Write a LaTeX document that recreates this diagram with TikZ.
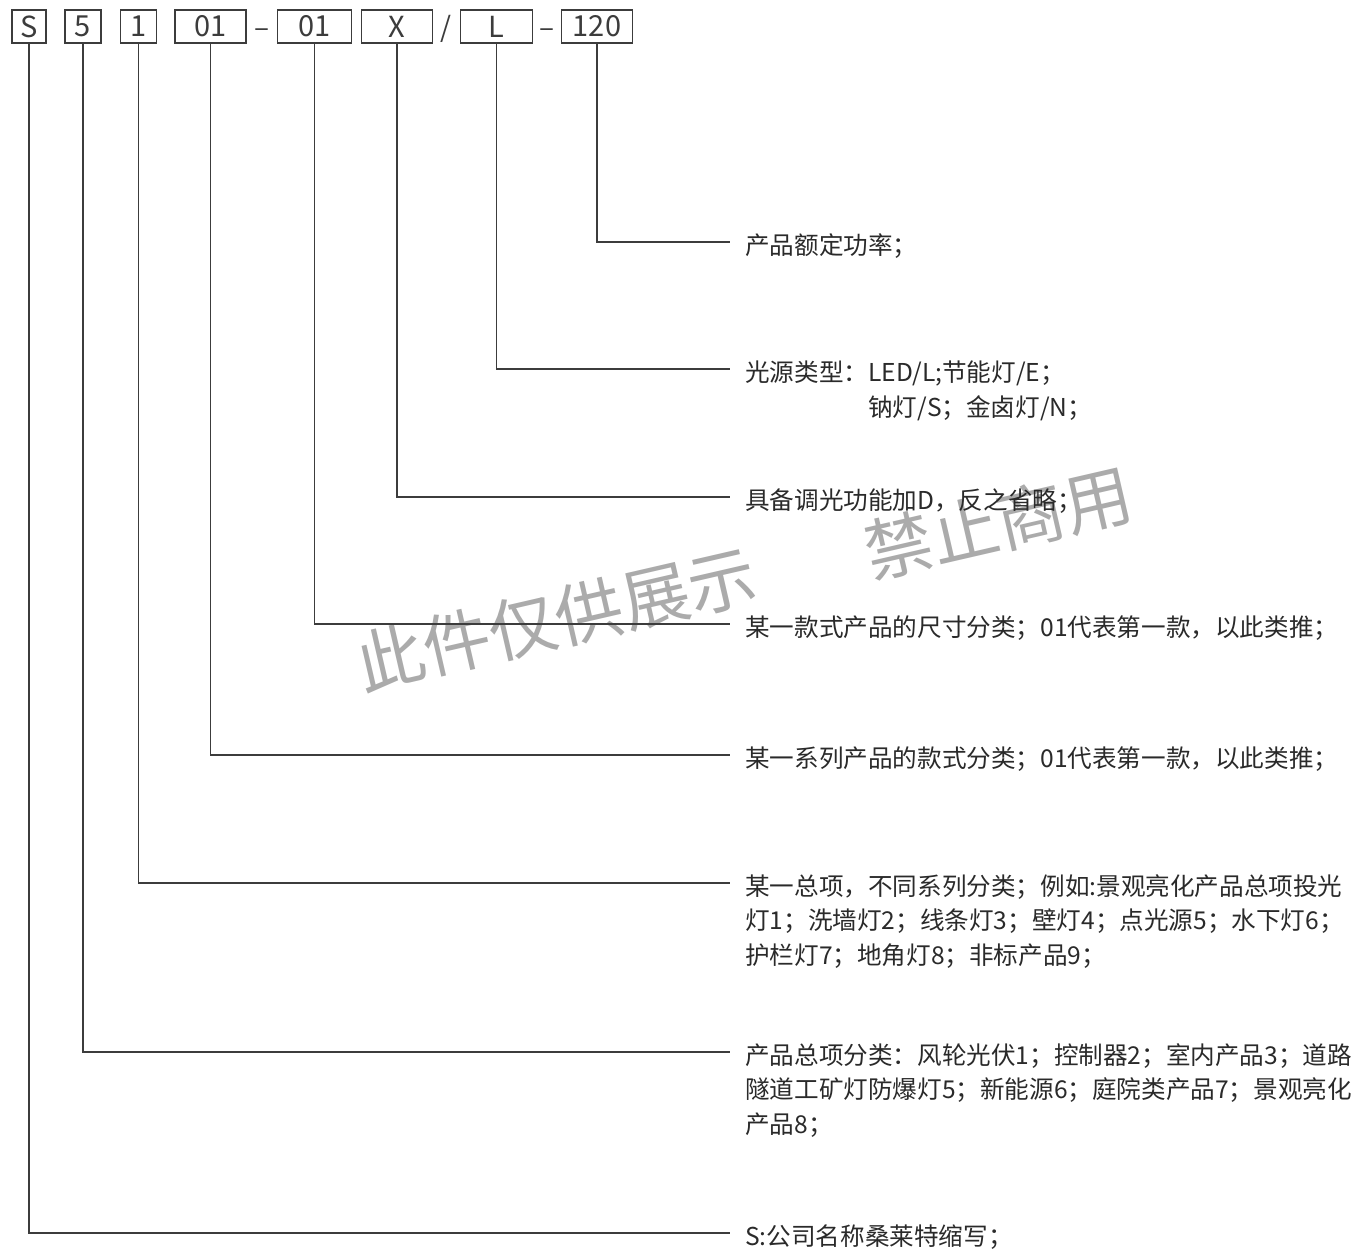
\documentclass[tikz,border=0pt]{standalone}
\usepackage{fontspec}
\setmainfont{Noto Sans CJK SC}
\usepackage{tikz}
\usetikzlibrary{calc}
\definecolor{trait}{HTML}{3C3C3C}
\definecolor{texte}{HTML}{2A2A2A}
\definecolor{filigrane}{HTML}{ABABAB}
\tikzset{
    casebox/.style={draw=trait,line width=1.4pt,minimum height=33pt,inner sep=0pt,
      font=\fontsize{29}{32}\selectfont,text=trait},
    sep/.style={anchor=base,inner sep=0pt,font=\fontsize{28}{30}\selectfont,text=trait},
    renvoi/.style={draw=trait,line width=1.6pt},
    legende/.style={anchor=base west,inner sep=0pt,align=left,
      font=\fontsize{24.6}{34.5}\selectfont,text=texte},
    filig/.style={text=filigrane,font=\fontsize{68}{68}\selectfont,rotate=13,inner sep=0pt},
  }

\begin{document}
\begin{tikzpicture}[x=1pt,y=-1pt]
	%cadre de la page
	\useasboundingbox (0,0) rectangle (1356,1251);
	%filigrane
	\node[filig] (w1) at (556,619) {此件仅供展示};
	\node[filig] (w2) at (998,523) {禁止商用};
	%code produit
	\node[casebox,minimum width=34pt] (bS) at (29,26.5) {S};
	\node[casebox,minimum width=36pt] (b5) at (83,26.5) {5};
	\node[casebox,minimum width=36pt] (b1) at (138.5,26.5) {1};
	\node[casebox,minimum width=71pt] (b01a) at (210.5,26.5) {01};
	\node[sep] (s1) at (262,37) {–};
	\node[casebox,minimum width=74pt] (b01b) at (314.5,26.5) {01};
	\node[casebox,minimum width=71pt] (bX) at (397,26.5) {X};
	\node[sep] (s2) at (446,37) {/};
	\node[casebox,minimum width=72pt] (bL) at (496.5,26.5) {L};
	\node[sep] (s3) at (547,37) {–};
	\node[casebox,minimum width=71pt] (b120) at (597,26.5) {120};
	%extremites des renvois
	\coordinate (eP) at (730,242);
	\coordinate (eL) at (730,369);
	\coordinate (eX) at (730,497);
	\coordinate (eT) at (730,624);
	\coordinate (eK) at (730,755);
	\coordinate (eZ) at (730,883);
	\coordinate (eC) at (730,1052);
	\coordinate (eS) at (730,1233);
	%legendes (base = derniere ligne)
	\node[legende] (tP) at (745,254) {产品额定功率；};
	\node[legende] (tL) at (745,416) {光源类型：LED/L;节能灯/E；\\
	  \hphantom{光源类型：}钠灯/S；金卤灯/N；};
	\node[legende] (tX) at (745,509) {具备调光功能加D，反之省略；};
	\node[legende] (tT) at (745,636) {某一款式产品的尺寸分类；01代表第一款，以此类推；};
	\node[legende] (tK) at (745,767) {某一系列产品的款式分类；01代表第一款，以此类推；};
	\node[legende] (tZ) at (745,964) {某一总项，不同系列分类；例如:景观亮化产品总项投光\\
	  灯1；洗墙灯2；线条灯3；壁灯4；点光源5；水下灯6；\\
	  护栏灯7；地角灯8；非标产品9；};
	\node[legende] (tC) at (745,1133) {产品总项分类：风轮光伏1；控制器2；室内产品3；道路\\
	  隧道工矿灯防爆灯5；新能源6；庭院类产品7；景观亮化\\
	  产品8；};
	\node[legende] (tS) at (745,1245) {S:公司名称桑莱特缩写；};
	%renvois
	\draw[renvoi] (b120.south) |- (eP);
	\draw[renvoi] (bL.south) |- (eL);
	\draw[renvoi] (bX.south) |- (eX);
	\draw[renvoi] (b01b.south) |- (eT);
	\draw[renvoi] (b01a.south) |- (eK);
	\draw[renvoi] (b1.south) |- (eZ);
	\draw[renvoi] (b5.south) |- (eC);
	\draw[renvoi] (bS.south) |- (eS);
\end{tikzpicture}
\end{document}
